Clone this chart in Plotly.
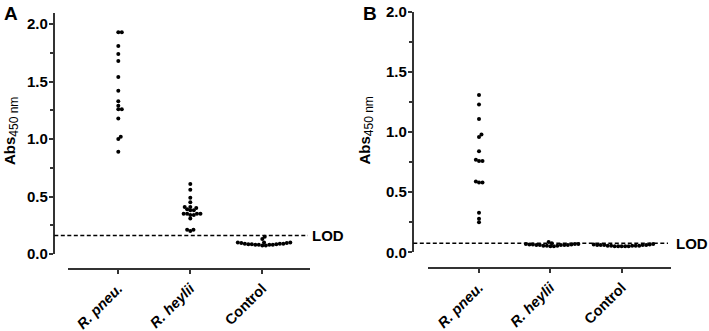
import numpy as np
import plotly.graph_objects as go

# ---------------- data ----------------
categories = ["R. pneu.", "R. heylii", "Control"]
tick_text = ["<i>R. pneu.</i>", "<i>R. heylii</i>", "Control"]
y_ticks = [0.0, 0.5, 1.0, 1.5, 2.0]
y_tick_labels = ["0.0", "0.5", "1.0", "1.5", "2.0"]

A_pneu = [1.93, 1.93, 1.81, 1.74, 1.68, 1.54, 1.42, 1.33, 1.29, 1.26, 1.26, 1.18, 1.02, 1.00, 0.89]
A_heylii = [0.61, 0.56, 0.49, 0.45, 0.41, 0.41, 0.40, 0.39, 0.38, 0.38, 0.35, 0.35, 0.34,
            0.35, 0.34, 0.35, 0.31, 0.21, 0.20, 0.21]
A_control = [0.15, 0.13, 0.10, 0.10, 0.095, 0.09, 0.09, 0.085, 0.085, 0.08, 0.08, 0.075,
             0.075, 0.08, 0.085, 0.09, 0.095, 0.10, 0.08]
A_lod = 0.16

B_pneu = [1.31, 1.23, 1.11, 0.98, 0.96, 0.84, 0.77, 0.76, 0.76, 0.59, 0.58, 0.58, 0.33, 0.28, 0.25]
B_heylii = [0.085, 0.075, 0.07, 0.07, 0.065, 0.065, 0.06, 0.06, 0.06, 0.06, 0.055, 0.055,
            0.055, 0.05, 0.05, 0.06, 0.065, 0.07]
B_control = [0.07, 0.065, 0.06, 0.06, 0.06, 0.055, 0.055, 0.055, 0.055, 0.05, 0.05, 0.05,
             0.05, 0.055, 0.06, 0.06, 0.065, 0.05]
B_lod = 0.075

# ---------------- layout geometry (pixels) ----------------
W, H = 709, 331
AXC = "#333333"
FONT = "Liberation Sans"

panels = [
    dict(name="A", groups=[A_pneu, A_heylii, A_control], lod=A_lod, ymax=2.1,
         yaxis_x=54.3, y_top=12.7, y_bot=254.0, xline=(68.0, 310.0), xline_y=269.3,
         ticks_px=(118.3, 262.3), lod_end=308.0, lod_text_x=311.0,
         title_x=11.0, title_y=131.0, label_x=2.0),
    dict(name="B", groups=[B_pneu, B_heylii, B_control], lod=B_lod, ymax=2.0,
         yaxis_x=413.3, y_top=12.0, y_bot=252.3, xline=(428.3, 670.7), xline_y=268.3,
         ticks_px=(479.0, 621.7), lod_end=668.0, lod_text_x=675.0,
         title_x=365.5, title_y=131.0, label_x=361.0),
]


def swarm(vals, px_per_y, d=3.3, step=0.35):
    """Simple beeswarm: horizontal pixel offsets so that dots don't overlap."""
    vals = np.asarray(vals, dtype=float)
    order = np.argsort(vals, kind="stable")
    placed = []
    offs = np.zeros(len(vals))
    for i in order:
        y = vals[i] * px_per_y
        k = 0
        while True:
            c = ((k + 1) // 2) * step * (1 if k % 2 else -1)
            if all((c - px) ** 2 + (y - py) ** 2 >= d * d for px, py in placed):
                break
            k += 1
        placed.append((c, y))
        offs[i] = c
    return offs


fig = go.Figure()
annotations = []
shapes = []
layout_axes = {}

for p_i, p in enumerate(panels):
    sfx = "" if p_i == 0 else "2"
    xa, ya = "x" + sfx, "y" + sfx
    px_per_cat = (p["ticks_px"][1] - p["ticks_px"][0]) / 2.0
    px_per_y = (p["y_bot"] - p["y_top"]) / p["ymax"]
    x_lo = -(p["ticks_px"][0] - p["xline"][0]) / px_per_cat
    x_hi = 2 + (p["xline"][1] - p["ticks_px"][1]) / px_per_cat

    for gi, vals in enumerate(p["groups"]):
        offs = swarm(vals, px_per_y) / px_per_cat
        fig.add_trace(go.Scatter(
            x=gi + offs, y=vals, mode="markers", xaxis=xa, yaxis=ya,
            marker=dict(color="black", size=4, line=dict(width=0)),
            hoverinfo="skip", showlegend=False))

    layout_axes["xaxis" + sfx] = dict(
        domain=[p["xline"][0] / W, p["xline"][1] / W], anchor="free",
        position=1 - p["xline_y"] / H, range=[x_lo, x_hi], automargin=False,
        tickmode="array", tickvals=[0, 1, 2], ticktext=tick_text, tickangle=-45,
        ticks="outside", ticklen=4, tickwidth=2, tickcolor=AXC,
        showline=True, linewidth=2, linecolor=AXC, showgrid=False, zeroline=False,
        tickfont=dict(family=FONT, size=14.5, color="black", weight="bold"))
    layout_axes["yaxis" + sfx] = dict(
        domain=[1 - p["y_bot"] / H, 1 - p["y_top"] / H], anchor="free",
        position=p["yaxis_x"] / W, range=[0, p["ymax"]], automargin=False,
        tickmode="array", tickvals=y_ticks, ticktext=y_tick_labels,
        ticks="outside", ticklen=4.5, tickwidth=2, tickcolor=AXC, ticklabelstandoff=-2,
        minor=dict(tickmode="array", tickvals=[0.25, 0.75, 1.25, 1.75],
                   ticks="outside", ticklen=3, tickwidth=1.5, tickcolor=AXC),
        showline=True, linewidth=2, linecolor=AXC, showgrid=False, zeroline=False,
        tickfont=dict(family=FONT, size=15, color="black", weight="bold"))

    shapes.append(dict(type="line", xref="paper", yref=ya,
                       x0=p["yaxis_x"] / W, x1=p["lod_end"] / W, y0=p["lod"], y1=p["lod"],
                       line=dict(color="black", width=1.5, dash="4px,2.5px")))
    annotations.append(dict(text="<b>LOD</b>", xref="paper", yref=ya,
                            x=p["lod_text_x"] / W, y=p["lod"], xanchor="left", yanchor="middle",
                            showarrow=False, borderpad=0,
                            font=dict(family=FONT, size=15, color="black")))
    annotations.append(dict(text="<b>Abs</b><sub><span style='font-size:12px'>450 nm</span></sub>",
                            xref="paper", yref="paper", textangle=-90,
                            x=p["title_x"] / W, y=1 - p["title_y"] / H,
                            xanchor="center", yanchor="middle", showarrow=False,
                            font=dict(family=FONT, size=15, color="black")))
    annotations.append(dict(text="<b>%s</b>" % p["name"], xref="paper", yref="paper",
                            x=p["label_x"] / W, y=1 - 13.3 / H, xanchor="left", yanchor="middle",
                            showarrow=False, font=dict(family=FONT, size=19, color="black")))

fig.update_layout(
    template="none",
    width=W, height=H, margin=dict(l=0, r=0, t=0, b=0, autoexpand=False),
    paper_bgcolor="white", plot_bgcolor="white", showlegend=False,
    font=dict(family=FONT, color="black"),
    shapes=shapes, annotations=annotations, **layout_axes)

fig.write_html("out.html", config={"displayModeBar": False},
               post_script="document.body.style.margin='0';")
